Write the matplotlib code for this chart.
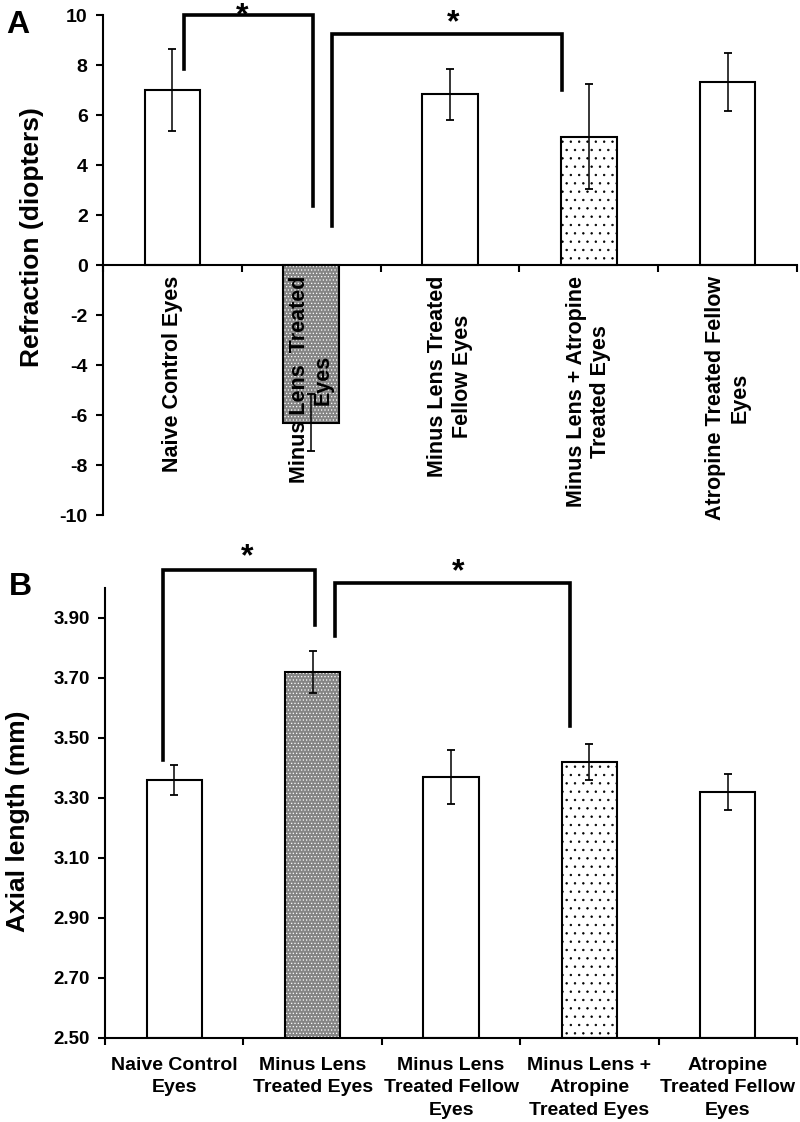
import matplotlib
matplotlib.use('Agg')
import matplotlib.pyplot as plt
import numpy as np

plt.rcParams['font.family'] = ['Liberation Sans', 'DejaVu Sans']
plt.rcParams['font.weight'] = 'bold'
plt.rcParams['hatch.linewidth'] = 0.5

# ---------------- data ----------------
labels_A = ["Naive Control Eyes", "Minus Lens  Treated\nEyes", "Minus Lens Treated\nFellow Eyes",
            "Minus Lens + Atropine\nTreated Eyes", "Atropine Treated Fellow\nEyes"]
refraction = [7.0, -6.3, 6.83, 5.13, 7.33]
refraction_err = [1.65, 1.13, 1.02, 2.1, 1.17]

labels_B = ["Naive Control\nEyes", "Minus Lens\nTreated Eyes", "Minus Lens\nTreated Fellow\nEyes",
            "Minus Lens +\nAtropine\nTreated Eyes", "Atropine\nTreated Fellow\nEyes"]
axial = [3.36, 3.72, 3.37, 3.42, 3.32]
axial_err = [0.05, 0.07, 0.09, 0.06, 0.06]

styles = ['plain', 'gray', 'plain', 'dots', 'plain']

yticks_A = [-10, -8, -6, -4, -2, 0, 2, 4, 6, 8, 10]
yticks_B = [2.50, 2.70, 2.90, 3.10, 3.30, 3.50, 3.70, 3.90]

# significance brackets: (x_left, x_right, y_left_bottom, y_top, y_right_bottom, star_x, star_y, star_va)
brackets_A = [(0.08, 1.01, 7.84, 10.0, 2.36, 0.50, 10.55, 'top'),
              (1.15, 2.81, 1.56, 9.24, 7.0, 2.02, 9.68, 'center')]
brackets_B = [(-0.08, 1.02, 3.426, 4.059, 3.876, 0.53, 4.10, 'center'),
              (1.16, 2.86, 3.839, 4.016, 3.54, 2.05, 4.05, 'center')]

# ---------------- figure ----------------
fig = plt.figure(figsize=(8, 11.22), dpi=100)
axA = fig.add_axes([103/800, 1-515/1122, 694/800, 500/1122])
axB = fig.add_axes([105/800, 1-1037.7/1122, 692/800, 450/1122])

x = np.arange(len(refraction))
W = 0.4


def draw_bars(ax, vals, errs, base):
    for xi, v, e, s in zip(x, vals, errs, styles):
        h = v - base
        if s == 'gray':
            ax.bar(xi, h, W, bottom=base, color='#858585', edgecolor='white',
                   hatch='.....', linewidth=0, zorder=0.5)
            ax.bar(xi, h, W, bottom=base, fill=False, edgecolor='black',
                   linewidth=1.5, zorder=0.6)
        elif s == 'dots':
            ax.bar(xi, h, W, bottom=base, color='white', edgecolor='black',
                   hatch='..', linewidth=1.5, zorder=0.5)
        else:
            ax.bar(xi, h, W, bottom=base, color='white', edgecolor='black',
                   linewidth=1.5, zorder=0.5)
        ax.errorbar(xi, v, yerr=e, fmt='none', ecolor='black', elinewidth=1.1,
                    capsize=2.6, capthick=1.3, zorder=1)


def draw_brackets(ax, brs):
    for xl, xr, yl, yt, yr, sx, sy, sva in brs:
        ax.plot([xl, xl, xr, xr], [yl, yt, yt, yr], color='black', lw=2.6,
                solid_joinstyle='miter', clip_on=False, zorder=5)
        ax.text(sx, sy, '*', ha='center', va=sva, fontsize=23,
                fontweight='bold', clip_on=False)


def style_axis(ax):
    for sp in ['top', 'right']:
        ax.spines[sp].set_visible(False)
    ax.spines['left'].set_linewidth(1.5)
    ax.spines['bottom'].set_linewidth(1.5)
    ax.set_xlim(-0.5, 4.5)
    ax.set_xticks(x)
    ax.set_xticks(np.arange(-0.5, 5.0, 1.0), minor=True)
    ax.tick_params(axis='x', which='major', length=0)
    ax.tick_params(axis='x', which='minor', length=5, width=1.5, direction='out')
    ax.tick_params(axis='y', length=5, width=1.5, direction='out', pad=6)


# ---- Panel A ----
draw_bars(axA, refraction, refraction_err, 0)
style_axis(axA)
axA.set_ylim(-10, 10)
axA.spines['bottom'].set_position(('data', 0))
axA.set_yticks(yticks_A)
axA.set_yticklabels([str(t) for t in yticks_A], fontsize=14, fontweight='bold')
axA.set_xticklabels(labels_A, rotation=90, fontsize=15.5, fontweight='bold',
                    va='top', ha='center')
axA.tick_params(axis='x', which='major', pad=8)
draw_brackets(axA, brackets_A)

# ---- Panel B ----
draw_bars(axB, axial, axial_err, 2.5)
style_axis(axB)
axB.set_ylim(2.5, 4.0)
axB.set_yticks(yticks_B)
axB.set_yticklabels([f"{t:.2f}" for t in yticks_B], fontsize=13.5, fontweight='bold')
axB.set_xticklabels(labels_B, fontsize=14, fontweight='bold', linespacing=1.4)
axB.tick_params(axis='x', which='major', pad=14)
draw_brackets(axB, brackets_B)

# ---- labels ----
fig.text(32/800, 1-237/1122, 'Refraction (diopters)', rotation=90, ha='center',
         va='center', fontsize=19, fontweight='bold')
fig.text(18/800, 1-821/1122, 'Axial length (mm)', rotation=90, ha='center',
         va='center', fontsize=19, fontweight='bold')
fig.text(18/800, 1-33/1122, 'A', ha='center', va='baseline', fontsize=23, fontweight='bold')
fig.text(20/800, 1-595/1122, 'B', ha='center', va='baseline', fontsize=23, fontweight='bold')

fig.savefig('out.png', dpi=100)
